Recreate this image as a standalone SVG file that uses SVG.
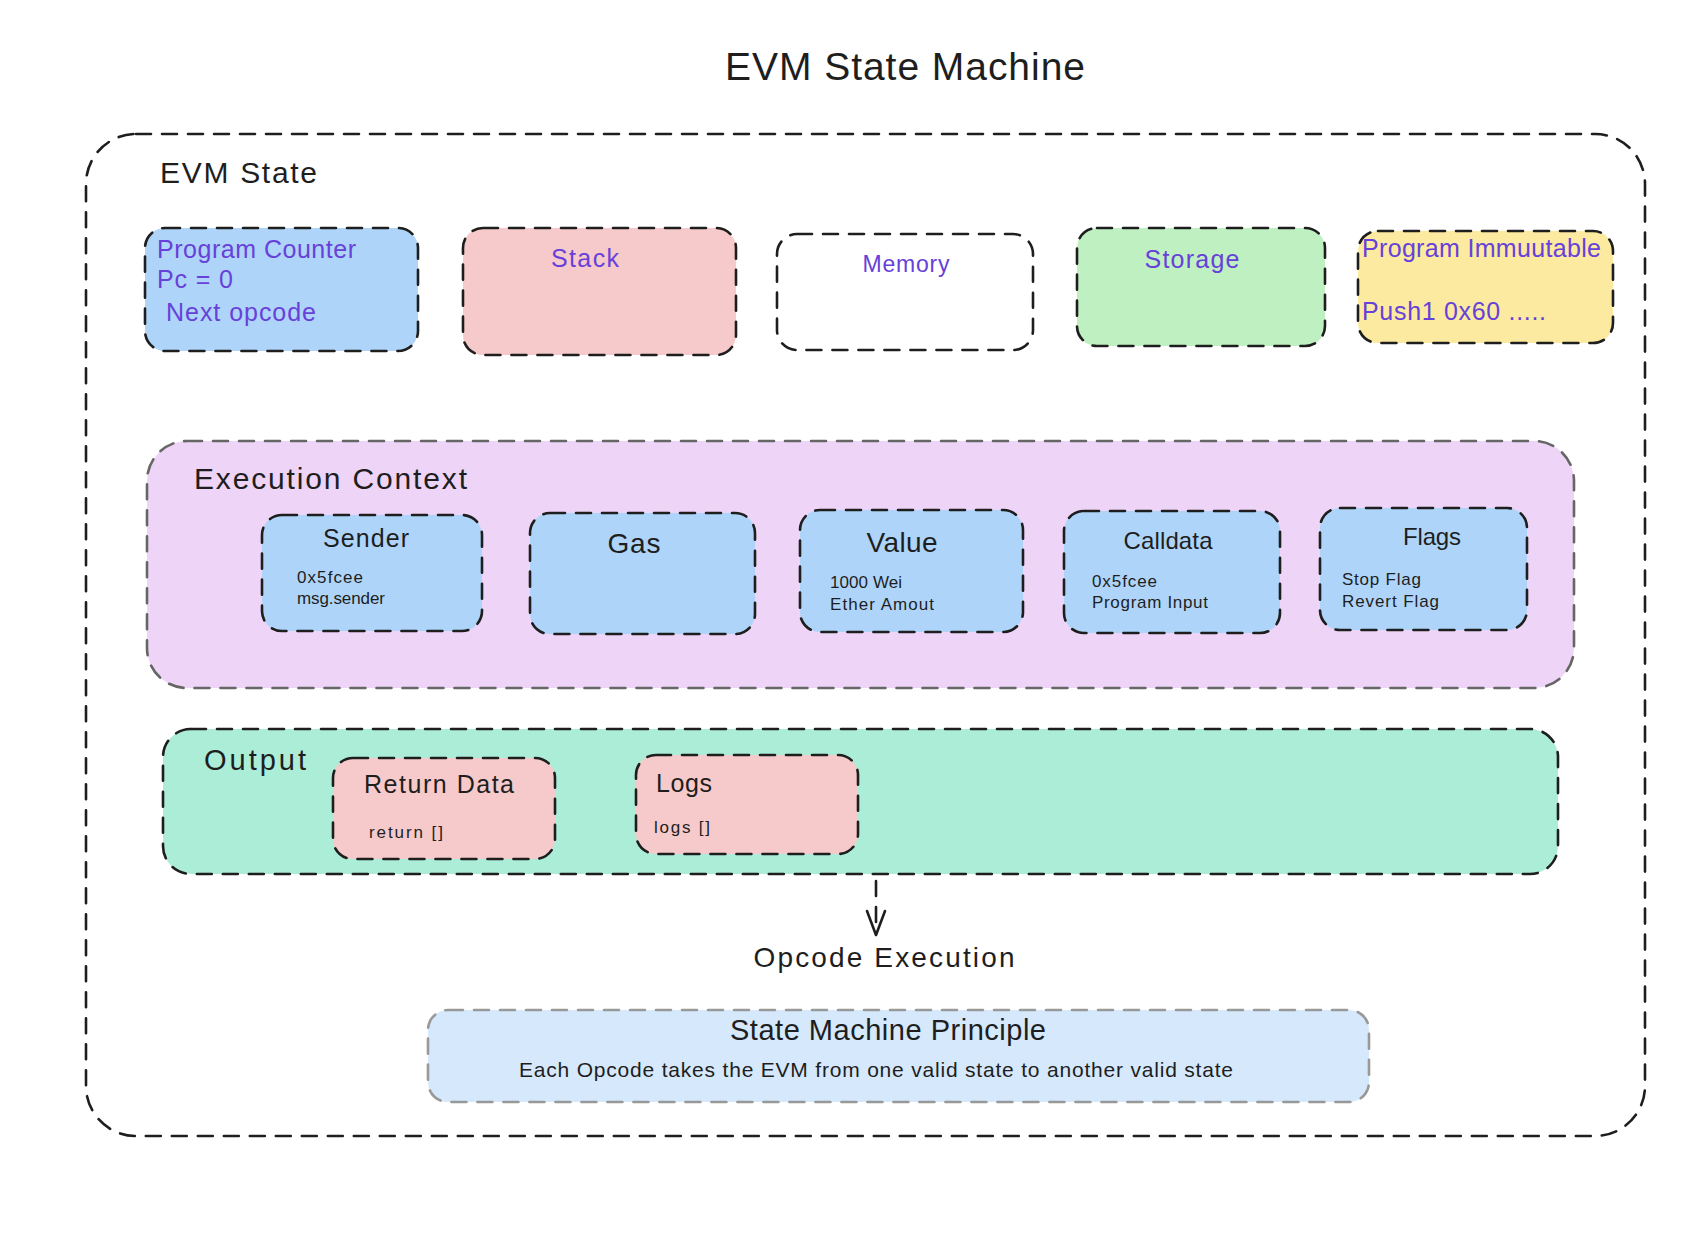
<svg xmlns="http://www.w3.org/2000/svg" width="1693" height="1254" viewBox="0 0 1693 1254">
<style>
  text { font-family: "Liberation Sans", Arial, sans-serif; fill: #1e1e1e; }
  .dash { stroke: #1e1e1e; stroke-width: 2.6; stroke-dasharray: 15 11; stroke-linecap: round; }
  .dashgray { stroke: #666666; stroke-width: 2.6; stroke-dasharray: 15 11; stroke-linecap: round; }
  .dashlight { stroke: #999999; stroke-width: 2.6; stroke-dasharray: 15 11; stroke-linecap: round; }
  .vio { fill: #6741d9; }
  .mid { text-anchor: middle; }
  .small { font-size: 17px; }
</style>
<rect width="1693" height="1254" fill="#ffffff"/>

<g id="title">
  <text x="905" y="80" class="mid" font-size="39" textLength="360">EVM State Machine</text>
</g>

<g id="evm-state">
  <rect x="86" y="134" width="1559" height="1002" rx="50" ry="50" fill="none" class="dash" stroke-width="2.8"/>
  <text x="160" y="183" font-size="30" textLength="157">EVM State</text>
</g>

<g id="program-counter">
  <rect x="145" y="228" width="273" height="123" rx="20" fill="#aed5f9" class="dash"/>
  <text x="157" y="258" font-size="25" class="vio" textLength="199">Program Counter</text>
  <text x="157" y="288" font-size="25" class="vio" textLength="76">Pc = 0</text>
  <text x="166" y="321" font-size="25" class="vio" textLength="150">Next opcode</text>
</g>

<g id="stack">
  <rect x="463" y="228" width="273" height="127" rx="20" fill="#f6caca" class="dash"/>
  <text x="585" y="267" font-size="25" class="vio mid" textLength="68">Stack</text>
</g>

<g id="memory">
  <rect x="777" y="234" width="256" height="116" rx="20" fill="#ffffff" class="dash"/>
  <text x="906" y="272" font-size="23" class="vio mid" textLength="87">Memory</text>
</g>

<g id="storage">
  <rect x="1077" y="228" width="248" height="118" rx="20" fill="#bff0c1" class="dash"/>
  <text x="1192" y="268" font-size="25" class="vio mid" textLength="95">Storage</text>
</g>

<g id="program-immutable">
  <rect x="1358" y="231" width="255" height="112" rx="20" fill="#fbea9f" class="dash"/>
  <text x="1362" y="257" font-size="25" class="vio" textLength="239">Program Immuutable</text>
  <text x="1362" y="320" font-size="25" class="vio" textLength="184">Push1 0x60 .....</text>
</g>

<g id="execution-context">
  <rect x="147" y="441" width="1427" height="247" rx="40" fill="#eed4f7" class="dashgray"/>
  <text x="194" y="489" font-size="30" textLength="273">Execution Context</text>
</g>

<g id="sender">
  <rect x="262" y="515" width="220" height="116" rx="20" fill="#aed5f9" class="dash"/>
  <text x="366" y="547" font-size="25" class="mid" textLength="86">Sender</text>
  <text x="297" y="583" class="small" textLength="66">0x5fcee</text>
  <text x="297" y="604" class="small" textLength="88">msg.sender</text>
</g>

<g id="gas">
  <rect x="530" y="513" width="225" height="121" rx="20" fill="#aed5f9" class="dash"/>
  <text x="634" y="553" font-size="28" class="mid" textLength="53">Gas</text>
</g>

<g id="value">
  <rect x="800" y="510" width="223" height="122" rx="20" fill="#aed5f9" class="dash"/>
  <text x="902" y="552" font-size="28" class="mid" textLength="71">Value</text>
  <text x="830" y="588" class="small" textLength="72">1000 Wei</text>
  <text x="830" y="610" class="small" textLength="104">Ether Amout</text>
</g>

<g id="calldata">
  <rect x="1064" y="511" width="216" height="122" rx="20" fill="#aed5f9" class="dash"/>
  <text x="1168" y="549" font-size="24" class="mid" textLength="89">Calldata</text>
  <text x="1092" y="587" class="small" textLength="65">0x5fcee</text>
  <text x="1092" y="608" class="small" textLength="116">Program Input</text>
</g>

<g id="flags">
  <rect x="1320" y="508" width="207" height="122" rx="20" fill="#aed5f9" class="dash"/>
  <text x="1432" y="545" font-size="24" class="mid" textLength="58">Flags</text>
  <text x="1342" y="585" class="small" textLength="79">Stop Flag</text>
  <text x="1342" y="607" class="small" textLength="97">Revert Flag</text>
</g>

<g id="output">
  <rect x="163" y="729" width="1395" height="145" rx="28" fill="#acedd8" class="dash"/>
  <text x="204" y="770" font-size="29" textLength="102">Output</text>
</g>

<g id="return-data">
  <rect x="333" y="758" width="222" height="101" rx="20" fill="#f6caca" class="dash"/>
  <text x="364" y="793" font-size="25" textLength="150">Return Data</text>
  <text x="369" y="838" class="small" textLength="74">return []</text>
</g>

<g id="logs">
  <rect x="636" y="755" width="222" height="99" rx="20" fill="#f6caca" class="dash"/>
  <text x="656" y="792" font-size="25" textLength="56">Logs</text>
  <text x="654" y="833" class="small" textLength="56">logs []</text>
</g>

<g id="opcode-execution">
  <text x="884" y="967" font-size="28" class="mid" textLength="261">Opcode Execution</text>
</g>

<g id="state-machine-principle">
  <rect x="428" y="1010" width="941" height="92" rx="20" fill="#d5e8fc" class="dashlight"/>
  <text x="888" y="1040" font-size="29" class="mid" textLength="316">State Machine Principle</text>
  <text x="876" y="1077" font-size="21" class="mid" textLength="714">Each Opcode takes the EVM from one valid state to another valid state</text>
</g>

<g id="connectors">
  <line x1="876" y1="881" x2="876" y2="934" class="dash"/>
  <polyline points="867,911 876,935 885,911" fill="none" stroke="#1e1e1e" stroke-width="2.6" stroke-linecap="round" stroke-linejoin="round"/>
</g>
</svg>
